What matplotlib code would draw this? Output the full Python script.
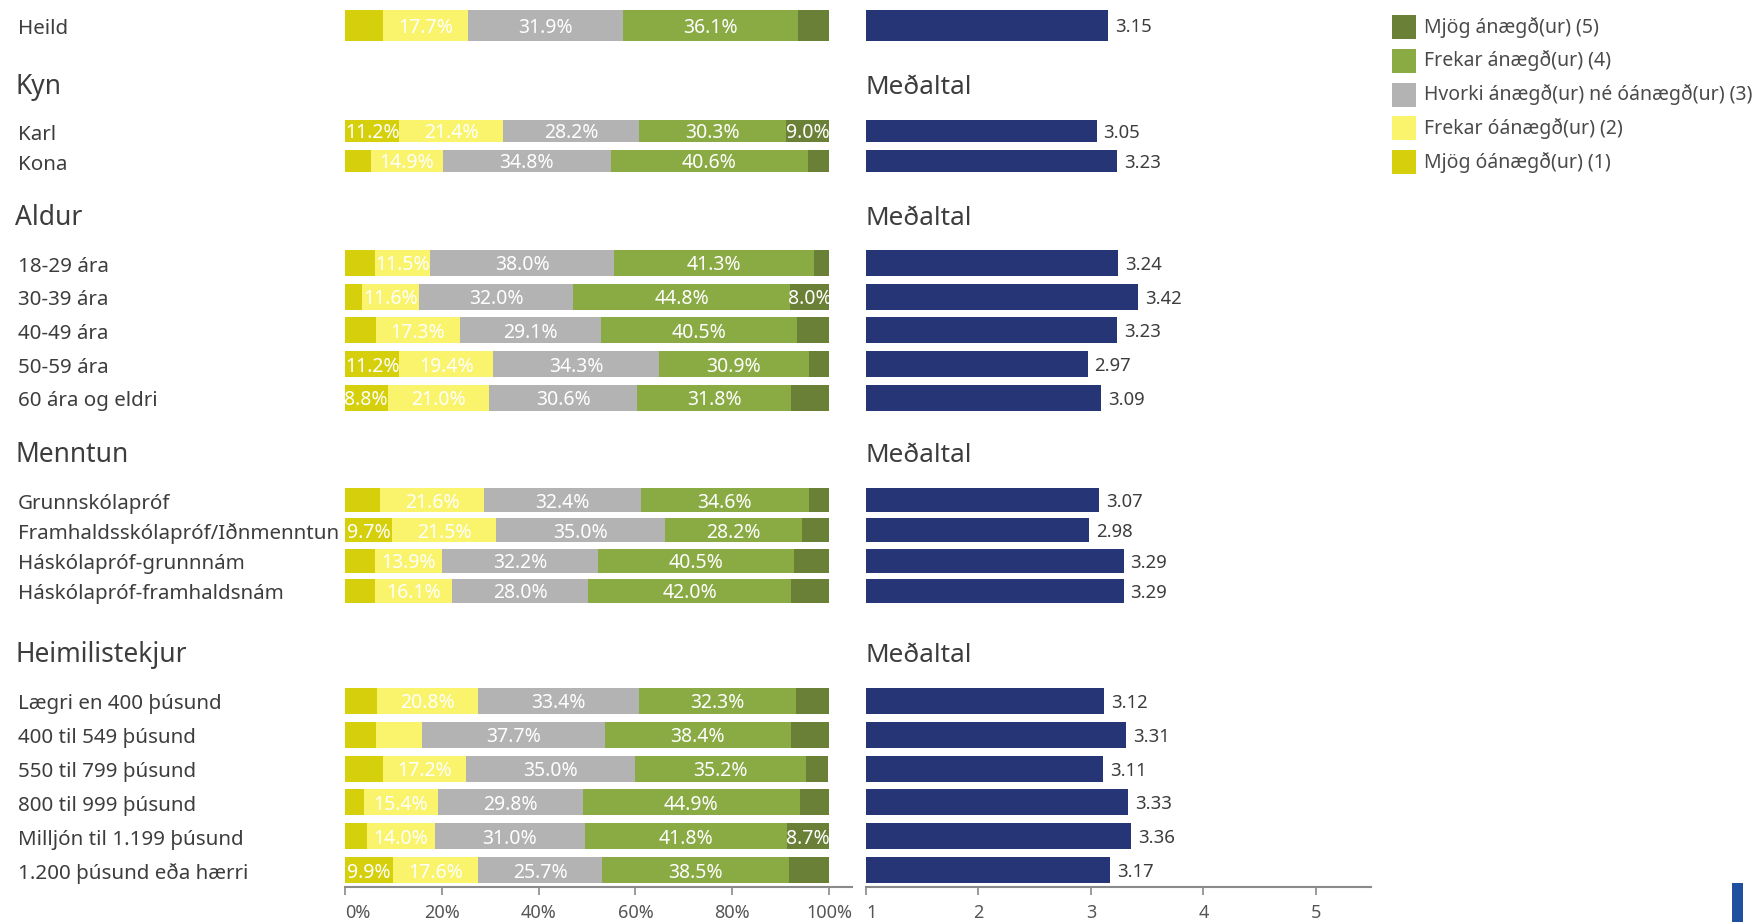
import matplotlib
matplotlib.use("Agg")
import matplotlib.pyplot as plt
from matplotlib.patches import Rectangle
from matplotlib.transforms import blended_transform_factory

plt.rcParams['font.family'] = ['Noto Sans', 'DejaVu Sans']

# -------- DATA --------
responses = ["Mjög óánægð(ur) (1)", "Frekar óánægð(ur) (2)",
             "Hvorki ánægð(ur) né óánægð(ur) (3)", "Frekar ánægð(ur) (4)",
             "Mjög ánægð(ur) (5)"]

groups = ["", "Kyn", "Aldur", "Menntun", "Heimilistekjur"]
categories = [
    ["Heild"],
    ["Karl", "Kona"],
    ["18-29 ára", "30-39 ára", "40-49 ára", "50-59 ára", "60 ára og eldri"],
    ["Grunnskólapróf", "Framhaldsskólapróf/Iðnmenntun",
     "Háskólapróf-grunnnám", "Háskólapróf-framhaldsnám"],
    ["Lægri en 400 þúsund", "400 til 549 þúsund", "550 til 799 þúsund",
     "800 til 999 þúsund", "Milljón til 1.199 þúsund", "1.200 þúsund eða hærri"],
]

very_dissatisfied = [7.8, 11.2, 5.3, 6.1, 3.6, 6.4, 11.2, 8.8, 7.2, 9.7, 6.2, 6.1,
                     6.6, 6.4, 7.8, 3.9, 4.5, 9.9]
dissatisfied = [17.7, 21.4, 14.9, 11.5, 11.6, 17.3, 19.4, 21.0, 21.6, 21.5, 13.9, 16.1,
                20.8, 9.6, 17.2, 15.4, 14.0, 17.6]
neutral = [31.9, 28.2, 34.8, 38.0, 32.0, 29.1, 34.3, 30.6, 32.4, 35.0, 32.2, 28.0,
           33.4, 37.7, 35.0, 29.8, 31.0, 25.7]
satisfied = [36.1, 30.3, 40.6, 41.3, 44.8, 40.5, 30.9, 31.8, 34.6, 28.2, 40.5, 42.0,
             32.3, 38.4, 35.2, 44.9, 41.8, 38.5]
very_satisfied = [6.5, 9.0, 4.3, 3.1, 8.0, 6.7, 4.2, 7.8, 4.2, 5.6, 7.2, 7.8,
                  6.9, 7.9, 4.6, 6.0, 8.7, 8.3]
means = [3.15, 3.05, 3.23, 3.24, 3.42, 3.23, 2.97, 3.09, 3.07, 2.98, 3.29, 3.29,
         3.12, 3.31, 3.11, 3.33, 3.36, 3.17]

# labels the original leaves out even though the segment is wide enough
hidden_labels = [("400 til 549 þúsund", 1), ("1.200 þúsund eða hærri", 4)]

# -------- LAYOUT (pixels from the top) --------
W, H = 1755, 922
# group: header baseline, first row centre, row step, bar height
layout = {
    "": (None, 25.5, 0, 31),
    "Kyn": (94, 131, 30, 22),
    "Aldur": (225, 263, 33.7, 26),
    "Menntun": (462, 500, 30.3, 24),
    "Heimilistekjur": (662, 701, 33.8, 26),
}
colors = ["#d5d00b", "#f9f46c", "#b3b3b3", "#8aab44", "#6a8036"]
navy = "#263576"
text_col = "#3d3d3d"
axis_col = "#8a8a8a"
AXIS_Y = 887

rows, ys, hs = [], [], []
for g, cats in zip(groups, categories):
    _, y0, step, h = layout[g]
    for i, c in enumerate(cats):
        rows.append(c)
        ys.append(y0 + i * step)
        hs.append(h)

fig = plt.figure(figsize=(W / 100, H / 100), dpi=100)
bottom = (H - AXIS_Y) / H
ax1 = fig.add_axes([345 / W, bottom, (852 - 345) / W, AXIS_Y / H])
ax2 = fig.add_axes([866 / W, bottom, (1371 - 866) / W, AXIS_Y / H])

# -------- STACKED PERCENT BARS --------
series = [very_dissatisfied, dissatisfied, neutral, satisfied, very_satisfied]
left = [0.0] * len(rows)
for k, (vals, col) in enumerate(zip(series, colors)):
    bars = ax1.barh(ys, vals, left=left, height=hs, color=col, linewidth=0)
    labels = []
    for r, v in zip(rows, vals):
        show = v >= 8.0 and (r, k) not in hidden_labels
        labels.append(f"{v:.1f}%" if show else "")
    for t in ax1.bar_label(bars, labels=labels, label_type="center", color="white",
                           fontsize=14):
        t.set_va("center_baseline")
    left = [a + b for a, b in zip(left, vals)]

ax1.set_xlim(0, 104.75)
ax1.set_ylim(AXIS_Y, 0)
ax1.set_xticks([0, 20, 40, 60, 80, 100])
ax1.set_xticklabels(["0%", "20%", "40%", "60%", "80%", "100%"])
ax1.get_xticklabels()[0].set_ha("left")

# -------- MEAN BARS --------
mbars = ax2.barh(ys, [m - 1 for m in means], left=1, height=hs, color=navy, linewidth=0)
for t in ax2.bar_label(mbars, labels=[f"{m:.2f}" for m in means], padding=5,
                       color=text_col, fontsize=13.3):
    t.set_va("center_baseline")
ax2.set_xlim(1, 5.49)
ax2.set_ylim(AXIS_Y, 0)
ax2.set_xticks([1, 2, 3, 4, 5])
ax2.get_xticklabels()[0].set_ha("left")

for ax in (ax1, ax2):
    for s in ("top", "left", "right"):
        ax.spines[s].set_visible(False)
    ax.spines["bottom"].set_color(axis_col)
    ax.spines["bottom"].set_linewidth(1.5)
    ax.set_yticks([])
    ax.tick_params(axis="x", direction="out", length=6, width=1.2,
                   color=axis_col, labelcolor="#555555", labelsize=13, pad=6)
    ax.patch.set_visible(False)

# -------- TEXT --------
tr = blended_transform_factory(fig.transFigure, ax1.transData)
for r, y in zip(rows, ys):
    ax1.text(18 / W, y + 8.5, r, transform=tr, ha="left", va="baseline",
             fontsize=14.8, color=text_col)
for g in groups[1:]:
    hy = layout[g][0]
    ax1.text(15 / W, hy, g, transform=tr, ha="left", va="baseline",
             fontsize=19, color=text_col)
    ax2.text(1.0, hy, "Meðaltal", ha="left", va="baseline", fontsize=18.8,
             color=text_col)

# -------- LEGEND (top = 5, bottom = 1) --------
for i, (c, lab) in enumerate(zip(colors[::-1], responses[::-1])):
    top = 15 + i * 33.8
    fig.patches.append(Rectangle((1392 / W, 1 - (top + 24) / H), 24 / W, 24 / H,
                                 transform=fig.transFigure, facecolor=c,
                                 edgecolor="none"))
    fig.text(1424 / W, 1 - (top + 12) / H, lab, ha="left", va="center",
             fontsize=14, color="#4a4a4a")

# small logo fragment in the corner
fig.patches.append(Rectangle((1732 / W, 0), 11 / W, 39 / H, transform=fig.transFigure,
                             facecolor="#1f4f9e", edgecolor="none"))

fig.savefig("out.png", dpi=100)
plt.close(fig)
